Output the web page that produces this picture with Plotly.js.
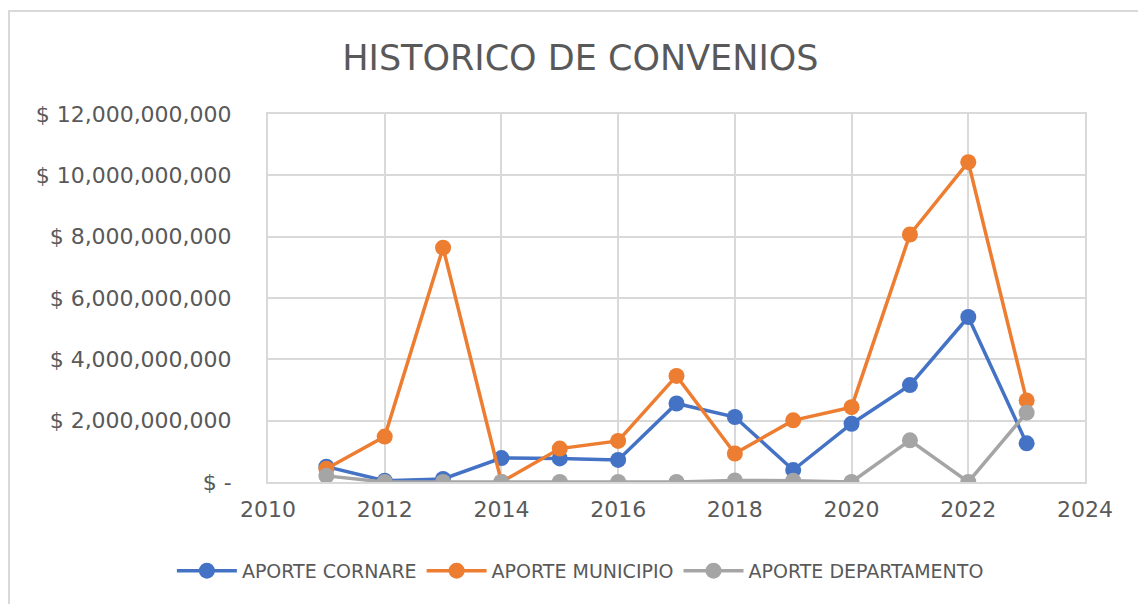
<!DOCTYPE html>
<html>
<head>
<meta charset="utf-8">
<script src="https://cdn.plot.ly/plotly-3.0.1.min.js"></script>
<style>
html,body{margin:0;padding:0;background:#fff;}
#wrap{position:relative;width:1138px;height:604px;overflow:hidden;}
#chart{position:absolute;left:0;top:0;width:1138px;height:604px;}
#frame{position:absolute;left:8px;top:10px;width:1140px;height:600px;border:2px solid #d9d9d9;box-sizing:border-box;pointer-events:none;}
</style>
</head>
<body>
<div id="wrap"><div id="chart"></div><div id="frame"></div></div>
<script>
const years = [2011,2012,2013,2014,2015,2016,2017,2018,2019,2020,2021,2022,2023];
const aporteCornare = [0.50e9,0.04e9,0.10e9,0.78e9,0.77e9,0.72e9,2.56e9,2.12e9,0.39e9,1.90e9,3.16e9,5.38e9,1.26e9];
const aporteMunicipio = [0.43e9,1.48e9,7.64e9,0.0,1.09e9,1.34e9,3.46e9,0.93e9,2.01e9,2.44e9,8.07e9,10.43e9,2.66e9];
const aporteDepartamento = [0.20e9,0.0,0.0,0.0,0.0,0.0,0.0,0.05e9,0.04e9,0.0,1.36e9,0.0,2.26e9];
const yTickVals = [0,2e9,4e9,6e9,8e9,10e9,12e9];
const yTickText = ["$ -","$ 2,000,000,000","$ 4,000,000,000","$ 6,000,000,000","$ 8,000,000,000","$ 10,000,000,000","$ 12,000,000,000"];
const xTickVals = [2010,2012,2014,2016,2018,2020,2022,2024];

const FONT = "DejaVu Sans, Verdana, sans-serif";
function tr(name, y, color){
  return {x: years, y: y, name: name, type: 'scatter', mode: 'lines+markers',
    line: {color: color, width: 3.5}, marker: {color: color, size: 16}};
}
const data = [
  tr('APORTE CORNARE', aporteCornare, '#4472C4'),
  tr('APORTE MUNICIPIO', aporteMunicipio, '#ED7D31'),
  tr('APORTE DEPARTAMENTO', aporteDepartamento, '#A5A5A5')
];
const layout = {
  width: 1138, height: 604,
  margin: {l: 268, r: 53, t: 114, b: 122, autoexpand: false},
  paper_bgcolor: '#ffffff', plot_bgcolor: '#ffffff',
  font: {family: FONT, color: '#595959', size: 20},
  title: {text: 'HISTORICO DE CONVENIOS', x: 0.51, xanchor: 'center', y: 0.905, yanchor: 'middle',
    font: {family: FONT, size: 35, color: '#595959'}},
  xaxis: {range: [2010, 2024], tickvals: xTickVals, ticktext: xTickVals.map(String),
    showgrid: true, gridcolor: '#d9d9d9', gridwidth: 2, zeroline: false,
    showline: true, linecolor: '#d9d9d9', linewidth: 2, mirror: true, ticks: '',
    ticklabelstandoff: 7, automargin: false,
    tickfont: {family: FONT, size: 22, color: '#595959'}},
  yaxis: {range: [0, 12e9], tickvals: yTickVals, ticktext: yTickText,
    showgrid: true, gridcolor: '#d9d9d9', gridwidth: 2, zeroline: false,
    showline: true, linecolor: '#d9d9d9', linewidth: 2, mirror: true, ticks: '',
    ticklabelstandoff: 30, automargin: false,
    tickfont: {family: FONT, size: 22, color: '#595959'}},
  showlegend: true,
  legend: {orientation: 'h', xref: 'container', yref: 'container', x: 0.51, xanchor: 'center', y: 0.055, yanchor: 'middle',
    font: {family: FONT, size: 19, color: '#595959'}, itemwidth: 60, tracegroupgap: 0}
};
Plotly.newPlot('chart', data, layout, {displayModeBar: false, staticPlot: true});
</script>
</body>
</html>
